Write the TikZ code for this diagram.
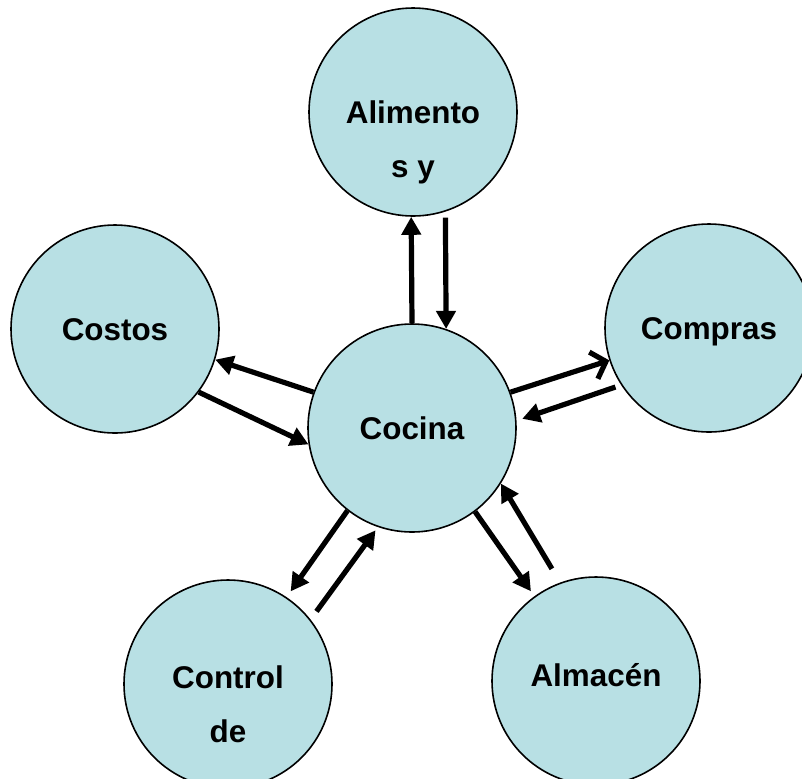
\documentclass[tikz,border=0pt]{standalone}
\usepackage{fontspec}
\setmainfont{Liberation Sans}
\usetikzlibrary{calc,arrows.meta}
\definecolor{celeste}{HTML}{B8E0E4}

\begin{document}
\begin{tikzpicture}[x=0.5pt, y=-0.5pt,
    area/.style={circle, draw, line width=0.8pt, fill=celeste, minimum size=104pt, inner sep=0pt,
        font=\fontsize{15.7}{27}\selectfont\bfseries, text height=11pt, text depth=0pt},
    linea/.style={font=\fontsize{15.7}{27}\selectfont\bfseries, inner sep=0pt, text height=11pt, text depth=0pt},
    flujo/.style={line width=2.6pt, -{Triangle[length=9pt,width=9.5pt]}},
    flujoab/.style={line width=2.6pt, -{Straight Barb[length=6.5pt,width=14pt,line width=2.6pt]}}]
            \useasboundingbox (0,0) rectangle (802,778);
            \clip (0,0) rectangle (802,778);
            \node[area] (alim) at (413,112) {Alimento};
            \node[area] (costos) at (115,329) {Costos};
            \node[area] (compras) at (709,328) {Compras};
            \node[area] (cocina) at (412,428) {Cocina};
            \node[area] (control) at (228,684) {};
            \node[area] (almacen) at (596,681) {};
            \node[linea] (alim2) at ($(alim)+(0,54)$) {s y};
            \node[linea] (control1) at ($(control)+(0,-7)$) {Control};
            \node[linea] (control2) at ($(control1)+(0,54)$) {de};
            \node[linea] (almacen1) at ($(almacen)+(0,-6)$) {Almac\'en};
            \draw[flujo] (cocina.90) -- (alim.-91);
            \draw[flujo, shorten <=3pt] (alim.-72) -- (cocina.71);
            \draw[flujo] (cocina.160) -- (costos.-17);
            \draw[flujo] (costos.-37) -- (cocina.-171);
            \draw[flujoab] (cocina.20) -- (compras.-162);
            \draw[flujo, shorten <=3pt, shorten >=3pt] (compras.-147) -- (cocina.4);
            \draw[flujo, shorten >=3.5pt] (cocina.-128) -- (control.56);
            \draw[flujo, shorten <=5pt, shorten >=2pt] (control.38) -- (cocina.-109);
            \draw[flujo, shorten >=3pt] (cocina.-53) -- (almacen.126);
            \draw[flujo, shorten <=8pt] (almacen.110) -- (cocina.-32);
        \end{tikzpicture}
\end{document}
